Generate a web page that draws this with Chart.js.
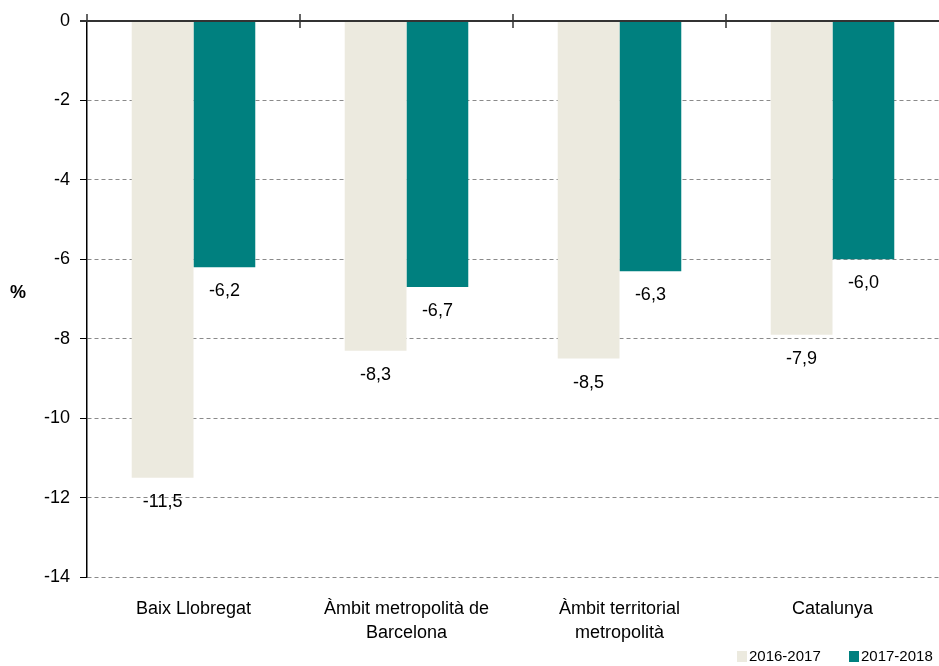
<!DOCTYPE html>
<html>
<head>
<meta charset="utf-8">
<script src="https://cdn.jsdelivr.net/npm/chart.js@4.4.1/dist/chart.umd.min.js"></script>
<style>
  html, body { margin: 0; padding: 0; background: #fff; }
  #wrap { width: 939px; height: 666px; position: relative; }
</style>
</head>
<body>
<div id="wrap"><canvas id="chart"></canvas></div>
<script>
// Dades
const categories = [
    'Baix Llobregat',
    ['Àmbit metropolità de', 'Barcelona'],
    ['Àmbit territorial', 'metropolità'],
    'Catalunya'
];
const serie2016 = [-11.5, -8.3, -8.5, -7.9];
const serie2018 = [-6.2, -6.7, -6.3, -6.0];
const seriesLabels = ['2016-2017', '2017-2018'];
const yTicks = [0, -2, -4, -6, -8, -10, -12, -14];

const FONT = 'Liberation Sans, Arial, sans-serif';

const fmt = v => v.toFixed(1).replace('.', ',');

// Etiquetes de valor, eix superior, títol "%" i llegenda
const extras = {
    id: 'extras',
    afterDatasetsDraw(chart) {
        const { ctx, chartArea } = chart;
        ctx.save();
        ctx.font = '18px ' + FONT;
        ctx.fillStyle = '#000';
        ctx.textAlign = 'center';
        ctx.textBaseline = 'middle';
        chart.data.datasets.forEach((ds, di) => {
            chart.getDatasetMeta(di).data.forEach((bar, i) => {
                ctx.fillText(fmt(ds.data[i]), bar.x, bar.y + 24);
            });
        });

        // eix superior (zero)
        const x = chart.scales.x;
        ctx.strokeStyle = '#333';
        ctx.lineWidth = 2;
        ctx.beginPath();
        ctx.moveTo(chartArea.left - 7, chartArea.top);
        ctx.lineTo(chartArea.right, chartArea.top);
        ctx.stroke();
        ctx.lineWidth = 1.5;
        ctx.beginPath();
        for (let i = 0; i < categories.length - 1; i++) {
            const b = (x.getPixelForTick(i) + x.getPixelForTick(i + 1)) / 2;
            ctx.moveTo(b, chartArea.top - 7);
            ctx.lineTo(b, chartArea.top + 7);
        }
        // prolongació de l'eix y
        ctx.moveTo(chartArea.left, chartArea.top - 7);
        ctx.lineTo(chartArea.left, chartArea.top);
        ctx.stroke();

        ctx.font = 'bold 18px ' + FONT;
        ctx.fillText('%', 18, 293);

        // llegenda
        ctx.font = '15px ' + FONT;
        ctx.textAlign = 'left';
        const legX = [737, 849];
        chart.data.datasets.forEach((ds, di) => {
            ctx.fillStyle = ds.backgroundColor;
            ctx.fillRect(legX[di], 651, 10, 11);
            ctx.fillStyle = '#000';
            ctx.fillText(ds.label, legX[di] + 12, 657);
        });
        ctx.restore();
    }
};

new Chart(document.getElementById('chart'), {
    type: 'bar',
    data: {
        labels: categories,
        datasets: [
            {
                label: seriesLabels[0],
                data: serie2016,
                backgroundColor: '#ECEADF',
                categoryPercentage: 0.58,
                barPercentage: 1
            },
            {
                label: seriesLabels[1],
                data: serie2018,
                backgroundColor: '#00807F',
                categoryPercentage: 0.58,
                barPercentage: 1
            }
        ]
    },
    options: {
        responsive: true,
        maintainAspectRatio: false,
        animation: false,
        layout: { padding: { left: 0, right: 0, top: 21, bottom: 0 } },
        plugins: {
            tooltip: { enabled: false },
            legend: { display: false }
        },
        scales: {
            x: {
                grid: { display: false },
                border: { display: false },
                ticks: {
                    color: '#000',
                    font: { family: FONT, size: 18, lineHeight: 1.33 },
                    padding: 12,
                    maxRotation: 0,
                    autoSkip: false
                },
                afterFit(scale) { scale.height = 89; }
            },
            y: {
                min: -14,
                max: 0,
                afterBuildTicks(scale) {
                    scale.ticks = yTicks.map(v => ({ value: v }));
                },
                afterFit(scale) { scale.width = 87; },
                border: { display: true, color: '#000', width: 1.5, dash: [4, 3] },
                grid: {
                    color: c => (c.tick && c.tick.value === 0) ? 'rgba(0,0,0,0)' : '#8a8a8a',
                    tickColor: '#000',
                    tickLength: 7,
                    lineWidth: 1
                },
                ticks: {
                    color: '#000',
                    font: { family: FONT, size: 18 },
                    padding: 10
                }
            }
        }
    },
    plugins: [extras]
});
</script>
</body>
</html>
